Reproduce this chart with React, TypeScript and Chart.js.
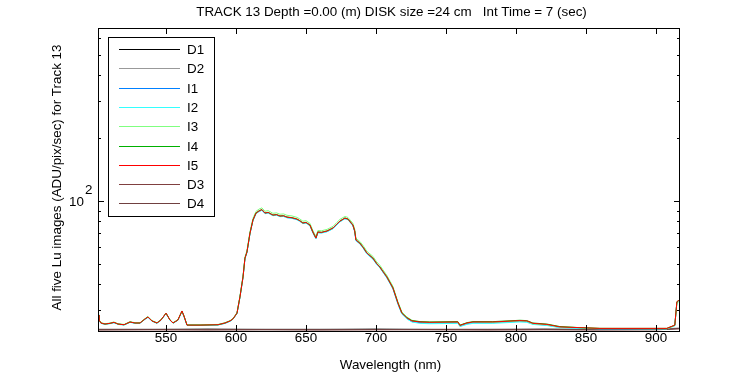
import React, { useEffect, useRef } from "react";
import { Chart, registerables } from "chart.js";

Chart.register(...registerables);

const TITLE = "TRACK 13 Depth =0.00 (m) DISK size =24 cm   Int Time = 7 (sec)";
const X_LABEL = "Wavelength (nm)";
const Y_LABEL = "All five Lu images (ADU/pix/sec) for Track 13";

const X_MIN = 501.4;
const X_MAX = 916.5;
const Y_MIN = 23.9;
const Y_MAX = 673;
const X_TICKS = [550, 600, 650, 700, 750, 800, 850, 900];
const Y_TICKS = [30, 40, 50, 60, 70, 80, 90, 100, 200, 300, 400, 500, 600];
const Y_MAJOR = [100];

const WL = [
  501.4, 502.1, 503.5, 506.4, 510.0, 512.8, 515.7, 520.0, 524.3, 527.8,
  531.4, 535.0, 537.1, 540.0, 543.5, 546.4, 550.0, 552.8, 555.0, 558.5,
  561.4, 562.8, 565.0, 574.3, 587.1, 592.1, 595.7, 597.8, 600.7, 602.8,
  605.0, 606.4, 607.8, 610.0, 612.1, 614.3, 616.4, 618.5, 620.7, 623.0,
  626.4, 629.0, 631.4, 634.0, 636.4, 640.0, 643.5, 645.5, 647.8, 650.0,
  652.8, 654.9, 657.1, 658.5, 661.0, 665.0, 669.3, 672.0, 674.3, 677.8,
  680.0, 683.5, 684.8, 685.7, 688.5, 691.0, 693.5, 697.8, 700.5, 702.8,
  705.0, 707.8, 712.1, 715.7, 718.5, 722.1, 725.7, 731.4, 738.5, 758.5,
  760.0, 765.0, 769.3, 783.5, 802.8, 807.8, 812.1, 822.1, 831.4, 845.7,
  860.0, 907.8, 913.5, 915.0, 916.4,
];

const I1 = [
  28.5, 26.9, 26.0, 25.8, 26.0, 26.2, 25.8, 25.6, 26.3, 26.1,
  26.1, 27.2, 27.8, 26.7, 26.1, 26.9, 29.0, 27.0, 26.1, 26.9,
  29.7, 28.1, 25.5, 25.5, 25.6, 26.0, 26.6, 27.2, 29.0, 34.6,
  43.1, 53.1, 56.8, 70.0, 80.8, 87.2, 89.2, 90.6, 87.2, 87.8,
  85.3, 85.7, 84.4, 84.6, 83.4, 82.8, 81.6, 80.2, 78.2, 78.6,
  76.4, 70.7, 66.2, 70.7, 70.5, 71.5, 73.9, 77.1, 79.8, 82.5,
  81.6, 76.4, 71.6, 64.7, 62.5, 59.4, 56.0, 52.9, 49.9, 48.0,
  45.7, 43.0, 38.1, 32.2, 28.9, 27.4, 26.5, 26.2, 26.1, 26.2,
  25.2, 25.9, 26.2, 26.2, 26.6, 26.5, 25.8, 25.5, 24.9, 24.7,
  24.5, 24.5, 25.4, 32.9, 33.4,
];

const I2 = [
  28.6, 27.0, 26.0, 25.7, 25.9, 26.2, 25.7, 25.5, 26.3, 26.0,
  26.0, 27.2, 27.8, 26.6, 26.0, 26.9, 29.0, 26.9, 26.0, 26.9,
  29.6, 28.1, 25.4, 25.4, 25.5, 26.0, 26.6, 27.2, 29.0, 34.5,
  43.0, 53.0, 56.6, 69.8, 80.6, 87.0, 89.0, 90.3, 87.0, 87.6,
  85.1, 85.5, 84.2, 84.4, 83.2, 82.6, 81.4, 80.0, 78.0, 78.4,
  76.2, 70.5, 66.0, 70.5, 70.3, 71.3, 73.7, 76.9, 79.6, 82.3,
  81.4, 76.2, 71.4, 64.6, 62.4, 59.3, 55.9, 52.8, 49.8, 47.9,
  45.6, 42.9, 38.0, 32.1, 28.8, 27.3, 26.4, 26.0, 25.9, 26.0,
  25.1, 25.7, 26.0, 26.0, 26.4, 26.3, 25.7, 25.4, 24.8, 24.6,
  24.5, 24.5, 25.3, 32.8, 33.3,
];

const I3 = [
  28.4, 27.1, 26.2, 25.9, 26.1, 26.4, 25.9, 25.7, 26.5, 26.2,
  26.2, 27.4, 28.0, 26.8, 26.2, 27.1, 29.0, 27.1, 26.2, 27.1,
  29.6, 28.3, 25.6, 25.6, 25.7, 26.2, 26.8, 27.4, 29.3, 35.0,
  43.8, 54.0, 58.0, 71.5, 82.6, 89.3, 91.5, 92.8, 89.4, 90.0,
  87.4, 87.8, 86.5, 86.8, 85.5, 84.9, 83.6, 82.2, 80.1, 80.6,
  78.3, 72.4, 67.6, 72.3, 72.1, 73.2, 75.7, 79.0, 81.8, 84.4,
  83.5, 78.3, 73.4, 66.3, 64.1, 61.0, 57.5, 54.4, 51.2, 49.3,
  46.9, 44.1, 39.1, 33.0, 29.5, 27.9, 26.9, 26.5, 26.3, 26.4,
  25.4, 26.1, 26.4, 26.3, 26.7, 26.6, 25.9, 25.6, 25.0, 24.8,
  24.6, 24.5, 25.4, 32.5, 33.0,
];

const I4 = [
  28.5, 27.0, 26.1, 25.8, 26.0, 26.3, 25.8, 25.6, 26.4, 26.1,
  26.1, 27.3, 27.9, 26.7, 26.1, 27.0, 29.1, 27.0, 26.1, 27.0,
  29.8, 28.2, 25.5, 25.5, 25.6, 26.1, 26.7, 27.3, 29.1, 34.8,
  43.4, 53.4, 57.1, 70.4, 81.2, 87.8, 89.8, 91.1, 87.8, 88.3,
  85.8, 86.2, 84.9, 85.1, 83.9, 83.3, 82.1, 80.7, 78.6, 79.1,
  76.9, 71.2, 66.6, 71.2, 70.9, 72.0, 74.4, 77.6, 80.3, 83.0,
  82.1, 76.9, 72.1, 65.2, 63.0, 59.9, 56.5, 53.4, 50.3, 48.4,
  46.1, 43.4, 38.5, 32.6, 29.2, 27.7, 26.8, 26.5, 26.4, 26.5,
  25.5, 26.2, 26.5, 26.5, 26.9, 26.8, 26.1, 25.8, 25.1, 24.8,
  24.6, 24.6, 25.5, 33.0, 33.5,
];

const I5 = [
  28.5, 27.0, 26.1, 25.8, 26.0, 26.3, 25.8, 25.6, 26.4, 26.1,
  26.1, 27.3, 27.9, 26.7, 26.1, 27.0, 29.1, 27.0, 26.1, 27.0,
  29.8, 28.2, 25.5, 25.5, 25.6, 26.1, 26.7, 27.3, 29.1, 34.7,
  43.3, 53.3, 57.0, 70.3, 81.1, 87.6, 89.6, 91.0, 87.6, 88.2,
  85.7, 86.1, 84.8, 85.0, 83.8, 83.2, 82.0, 80.6, 78.5, 79.0,
  76.8, 71.1, 66.5, 71.1, 70.8, 71.9, 74.3, 77.5, 80.2, 82.9,
  82.0, 76.8, 72.0, 65.1, 62.9, 59.8, 56.4, 53.3, 50.2, 48.3,
  46.0, 43.3, 38.4, 32.5, 29.1, 27.6, 26.7, 26.4, 26.3, 26.4,
  25.4, 26.1, 26.4, 26.4, 26.8, 26.7, 26.0, 25.7, 25.0, 24.8,
  24.6, 24.6, 25.5, 33.0, 33.5,
];

const DARK_WL = [501.4, 540, 580, 620, 660, 700, 740, 780, 820, 860, 900, 916.4];
const D1 = [24.3, 24.3, 24.4, 24.3, 24.3, 24.4, 24.3, 24.3, 24.4, 24.3, 24.3, 24.6];
const D2 = [24.4, 24.4, 24.3, 24.4, 24.4, 24.3, 24.4, 24.4, 24.3, 24.4, 24.4, 24.7];
const D3 = [24.2, 24.2, 24.2, 24.3, 24.2, 24.2, 24.3, 24.2, 24.2, 24.2, 24.3, 24.5];
const D4 = [24.2, 24.3, 24.2, 24.2, 24.2, 24.3, 24.2, 24.2, 24.3, 24.2, 24.2, 24.5];

const SERIES_NAMES = ["D1", "D2", "I1", "I2", "I3", "I4", "I5", "D3", "D4"];
const SERIES_COLORS = ["#000000", "#999999", "#0080ff", "#33ffff", "#80ff80", "#00b000", "#ff0000", "#804040", "#704040"];
const SERIES_VALUES = [D1, D2, I1, I2, I3, I4, I5, D3, D4];
const SERIES_X = [DARK_WL, DARK_WL, WL, WL, WL, WL, WL, DARK_WL, DARK_WL];
const SERIES_ORDER = [8, 7, 4, 3, 2, 1, 0, 6, 5];

const FAMILY = "'Liberation Sans', Arial, sans-serif";
const FONT = "13.4px " + FAMILY;

const framePlugin = {
  id: "framePlugin",
  afterDraw(chart: any) {
    const ctx = chart.ctx as CanvasRenderingContext2D;
    const { left, right, top, bottom } = chart.chartArea;
    const xs = chart.scales.x;
    const ys = chart.scales.y;
    ctx.save();
    ctx.strokeStyle = "#000";
    ctx.lineWidth = 1;
    ctx.strokeRect(left + 0.5, top + 0.5, right - left, bottom - top);
    ctx.beginPath();
    X_TICKS.forEach((v) => {
      const px = Math.round(xs.getPixelForValue(v)) + 0.5;
      ctx.moveTo(px, bottom);
      ctx.lineTo(px, bottom - 6);
      ctx.moveTo(px, top);
      ctx.lineTo(px, top + 6);
    });
    Y_TICKS.forEach((v) => {
      const py = Math.round(ys.getPixelForValue(v)) + 0.5;
      const len = Y_MAJOR.includes(v) ? 6 : 3;
      ctx.moveTo(left, py);
      ctx.lineTo(left + len, py);
      ctx.moveTo(right + 1, py);
      ctx.lineTo(right + 1 - len, py);
    });
    ctx.stroke();

    ctx.fillStyle = "#000";
    ctx.font = FONT;
    ctx.textAlign = "center";
    ctx.textBaseline = "middle";
    X_TICKS.forEach((v) => {
      ctx.fillText(String(v), xs.getPixelForValue(v), bottom + 7);
    });

    Y_MAJOR.forEach((v) => {
      const py = ys.getPixelForValue(v);
      const exp = Math.round(Math.log10(v));
      ctx.textAlign = "right";
      ctx.textBaseline = "middle";
      ctx.fillText("10", left - 14, py + 1);
      ctx.textAlign = "left";
      ctx.fillText(String(exp), left - 13, py - 11);
    });

    ctx.textAlign = "center";
    ctx.textBaseline = "middle";
    ctx.fillText(TITLE, (left + right) / 2 + 3, 12);
    ctx.fillText(X_LABEL, (left + right) / 2 + 2, 365);
    ctx.save();
    ctx.translate(57, (top + bottom) / 2 - 2);
    ctx.rotate(-Math.PI / 2);
    ctx.fillText(Y_LABEL, 0, 0);
    ctx.restore();

    const lx = 108, ly = 37, lw = 106, lh = 179;
    ctx.fillStyle = "#fff";
    ctx.fillRect(lx, ly, lw, lh);
    ctx.strokeStyle = "#000";
    ctx.strokeRect(lx + 0.5, ly + 0.5, lw, lh);
    ctx.textAlign = "left";
    ctx.textBaseline = "middle";
    SERIES_NAMES.forEach((name, i) => {
      const y = Math.round(49 + i * 19.3) + 0.5;
      ctx.strokeStyle = SERIES_COLORS[i];
      ctx.beginPath();
      ctx.moveTo(119, y);
      ctx.lineTo(180, y);
      ctx.stroke();
      ctx.fillStyle = "#000";
      ctx.fillText(name, 187, y + 1);
    });
    ctx.restore();
  },
};

export default function App() {
  const ref = useRef<HTMLCanvasElement>(null);
  useEffect(() => {
    const canvas = ref.current;
    if (!canvas) return;
    const datasets = SERIES_NAMES.map((name, i) => ({
      label: name,
      data: SERIES_X[i].map((x, j) => ({ x, y: SERIES_VALUES[i][j] })),
      borderColor: SERIES_COLORS[i],
      backgroundColor: SERIES_COLORS[i],
      borderWidth: 1,
      pointRadius: 0,
      tension: 0,
      fill: false,
      order: SERIES_ORDER[i],
    }));
    const chart = new Chart(canvas, {
      type: "line",
      data: { datasets },
      options: {
        responsive: false,
        animation: false,
        layout: { padding: { left: 98, right: 71, top: 28, bottom: 44 } },
        plugins: {
          legend: { display: false },
          title: { display: false },
          tooltip: { enabled: false },
        },
        scales: {
          x: {
            type: "linear",
            display: false,
            min: X_MIN,
            max: X_MAX,
          },
          y: {
            type: "logarithmic",
            display: false,
            min: Y_MIN,
            max: Y_MAX,
          },
        },
      },
      plugins: [framePlugin],
    });
    return () => chart.destroy();
  }, []);
  return (
    <div style={{ position: "fixed", left: 0, top: 0, width: 750, height: 375, background: "#fff" }}>
      <canvas ref={ref} width={750} height={375} style={{ display: "block", width: 750, height: 375 }} />
    </div>
  );
}
